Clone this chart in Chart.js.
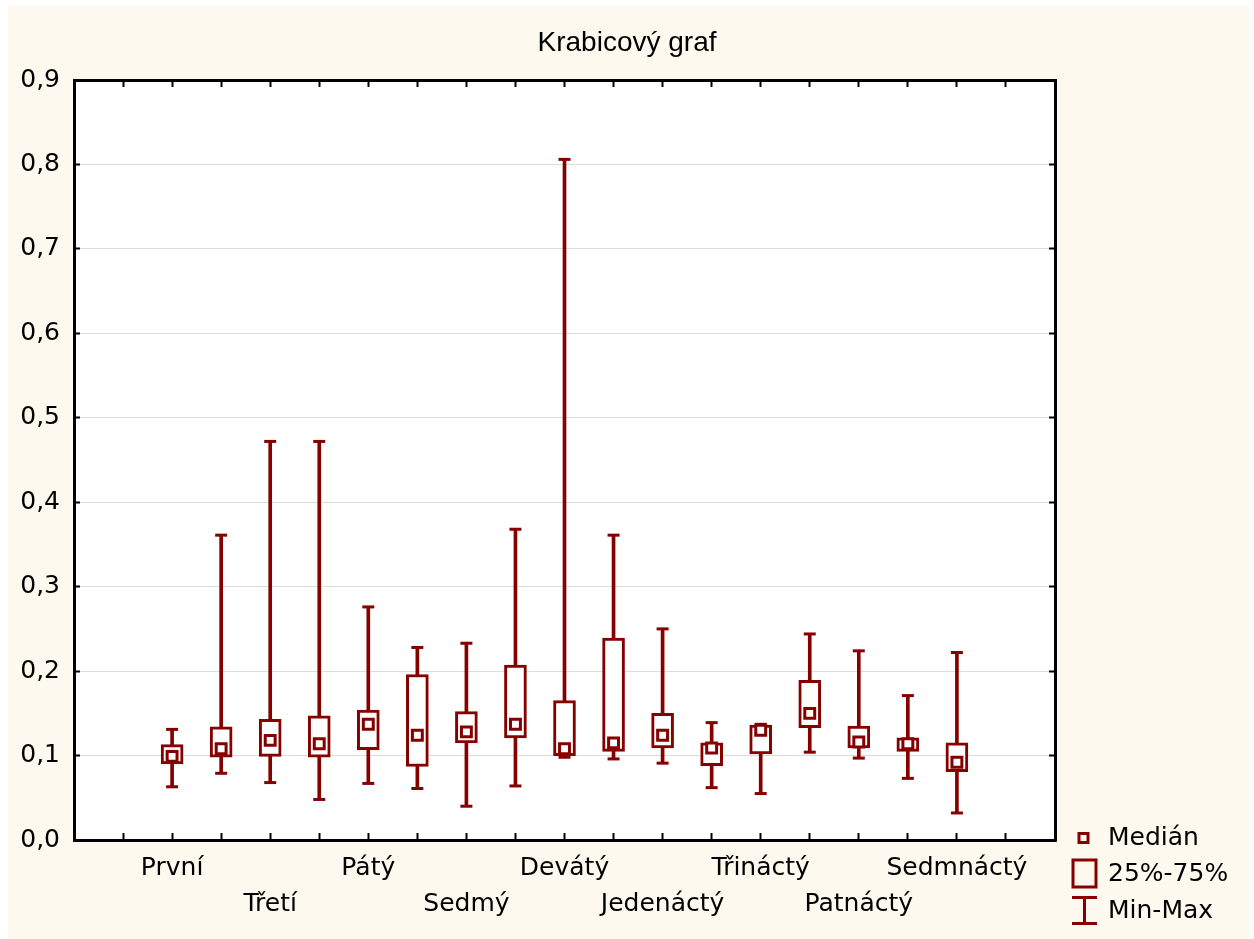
<!DOCTYPE html>
<html lang="cs">
<head>
    <meta charset="UTF-8">
    <title>Krabicový graf</title>
    <script src="https://cdn.jsdelivr.net/npm/chart.js"></script>
    <style>
        body { margin: 0; background: #fff; }
        canvas { display: block; }
    </style>
</head>
<body>
    <canvas id="boxChart" width="1254" height="939"></canvas>

    <script>
        // data
        const categories = ['První', 'Druhý', 'Třetí', 'Čtvrtý', 'Pátý', 'Šestý', 'Sedmý', 'Osmý', 'Devátý',
            'Desátý', 'Jedenáctý', 'Dvanáctý', 'Třináctý', 'Čtrnáctý', 'Patnáctý', 'Šestnáctý', 'Sedmnáctý'];
        const mins    = [0.063, 0.079, 0.068, 0.048, 0.067, 0.061, 0.040, 0.064, 0.098, 0.096, 0.091, 0.062, 0.055, 0.104, 0.097, 0.073, 0.032];
        const q1      = [0.090, 0.098, 0.099, 0.098, 0.107, 0.087, 0.115, 0.121, 0.100, 0.105, 0.109, 0.088, 0.102, 0.133, 0.109, 0.105, 0.081];
        const medians = [0.099, 0.108, 0.118, 0.114, 0.137, 0.124, 0.128, 0.137, 0.108, 0.115, 0.124, 0.109, 0.130, 0.150, 0.116, 0.114, 0.092];
        const q3      = [0.113, 0.134, 0.143, 0.147, 0.154, 0.196, 0.152, 0.207, 0.165, 0.239, 0.150, 0.115, 0.136, 0.189, 0.135, 0.121, 0.115];
        const maxs    = [0.131, 0.361, 0.472, 0.472, 0.276, 0.228, 0.233, 0.368, 0.806, 0.361, 0.250, 0.139, 0.137, 0.244, 0.224, 0.171, 0.222];
        const yTicks = [0, 0.9, 0.1];   // min, max, step
        const xRange = [0, 20];         // categories sit at 2..18
        const legendLabels = ['Medián', '25%-75%', 'Min-Max'];

        const red = '#860000';
        const xOf = i => i + 2;

        Chart.defaults.font.family = 'DejaVu Sans';
        Chart.defaults.color = '#000';

        // cream panel + white plot area
        const background = {
            id: 'background',
            beforeDraw(chart) {
                const { ctx, chartArea: a } = chart;
                ctx.save();
                ctx.fillStyle = '#fff';
                ctx.fillRect(0, 0, chart.width, chart.height);
                ctx.fillStyle = '#FDF9EE';
                ctx.fillRect(8, 6, 1241, 933);
                ctx.fillStyle = '#fff';
                ctx.fillRect(a.left, a.top, a.right - a.left, a.bottom - a.top);
                ctx.restore();
            }
        };

        // legend in the lower right corner
        const boxLegend = {
            id: 'boxLegend',
            afterDraw(chart) {
                const ctx = chart.ctx;
                ctx.save();
                ctx.strokeStyle = red;
                ctx.lineWidth = 3;
                ctx.strokeRect(1079, 833.5, 9, 9);
                ctx.strokeRect(1073, 860, 23, 27);
                ctx.beginPath();
                ctx.moveTo(1084.5, 897); ctx.lineTo(1084.5, 923);
                ctx.moveTo(1072, 897.5); ctx.lineTo(1097, 897.5);
                ctx.moveTo(1072, 923.5); ctx.lineTo(1097, 923.5);
                ctx.stroke();
                ctx.fillStyle = '#000';
                ctx.font = '25px "DejaVu Sans"';
                ctx.textBaseline = 'middle';
                ctx.fillText(legendLabels[0], 1108, 838);
                ctx.fillText(legendLabels[1], 1108, 874);
                ctx.fillText(legendLabels[2], 1108, 911);
                ctx.restore();
            }
        };

        const inwardGrid = { drawOnChartArea: false, offset: false, tickLength: -7, tickColor: '#000', tickWidth: 2 };
        const frame = { color: '#000', width: 3 };

        new Chart(document.getElementById('boxChart'), {
            data: {
                datasets: [
                    {
                        type: 'bar', label: 'Min-Max', order: 4, grouped: false,
                        data: categories.map((c, i) => ({ x: xOf(i), y: [mins[i], maxs[i]] })),
                        backgroundColor: red, barThickness: 3, borderWidth: 0
                    },
                    {
                        type: 'scatter', label: 'caps', order: 3,
                        data: categories.map((c, i) => ({ x: xOf(i), y: mins[i] }))
                            .concat(categories.map((c, i) => ({ x: xOf(i), y: maxs[i] }))),
                        pointStyle: 'line', pointRadius: 6, pointBorderColor: red, pointBorderWidth: 3
                    },
                    {
                        type: 'bar', label: '25%-75%', order: 2, grouped: false,
                        data: categories.map((c, i) => ({ x: xOf(i), y: [q1[i], q3[i]] })),
                        backgroundColor: '#fff', borderColor: red, borderWidth: 3,
                        borderSkipped: false, barThickness: 22
                    },
                    {
                        type: 'scatter', label: 'Medián', order: 1,
                        data: categories.map((c, i) => ({ x: xOf(i), y: medians[i] })),
                        pointStyle: 'rect', pointRadius: 7, pointBackgroundColor: '#fff',
                        pointBorderColor: red, pointBorderWidth: 3
                    }
                ]
            },
            options: {
                responsive: false,
                animation: false,
                layout: { padding: 0 },
                plugins: {
                    legend: { display: false },
                    tooltip: { enabled: false },
                    title: {
                        display: true,
                        text: 'Krabicový graf',
                        color: '#000',
                        font: { family: 'Liberation Sans', size: 28, weight: 'normal', lineHeight: 1.2 },
                        padding: { top: 26, bottom: 20.4 }
                    }
                },
                scales: {
                    x: {
                        type: 'linear', position: 'bottom', min: xRange[0], max: xRange[1], offset: false,
                        grid: inwardGrid, border: frame,
                        ticks: {
                            stepSize: 1, autoSkip: false, maxRotation: 0, padding: 17,
                            font: { size: 25, lineHeight: 1.44 },
                            callback: v => {
                                const i = Math.round(v) - 2;
                                if (i < 0 || i >= categories.length || i % 2) return '';
                                return (i / 2) % 2 === 0 ? [categories[i], ''] : ['', categories[i]];
                            }
                        },
                        afterFit: s => { s.height = 99; }
                    },
                    x2: {
                        type: 'linear', position: 'top', min: xRange[0], max: xRange[1], offset: false,
                        grid: inwardGrid, border: frame,
                        ticks: { stepSize: 1, autoSkip: false, display: false },
                        afterFit: s => { s.height = 0; }
                    },
                    y: {
                        position: 'left', min: yTicks[0], max: yTicks[1],
                        grid: { color: '#DCDCDC', lineWidth: 1, tickLength: -6, tickColor: '#000', tickWidth: 2 },
                        border: frame,
                        ticks: {
                            stepSize: yTicks[2], padding: 20, font: { size: 25 },
                            callback: v => v.toFixed(1).replace('.', ',')
                        },
                        afterFit: s => { s.width = 74; }
                    },
                    y2: {
                        position: 'right', min: yTicks[0], max: yTicks[1],
                        grid: { drawOnChartArea: false, tickLength: -6, tickColor: '#000', tickWidth: 2 },
                        border: frame,
                        ticks: { stepSize: yTicks[2], display: false },
                        afterFit: s => { s.width = 199; }
                    }
                }
            },
            plugins: [background, boxLegend]
        });
    </script>
</body>
</html>
